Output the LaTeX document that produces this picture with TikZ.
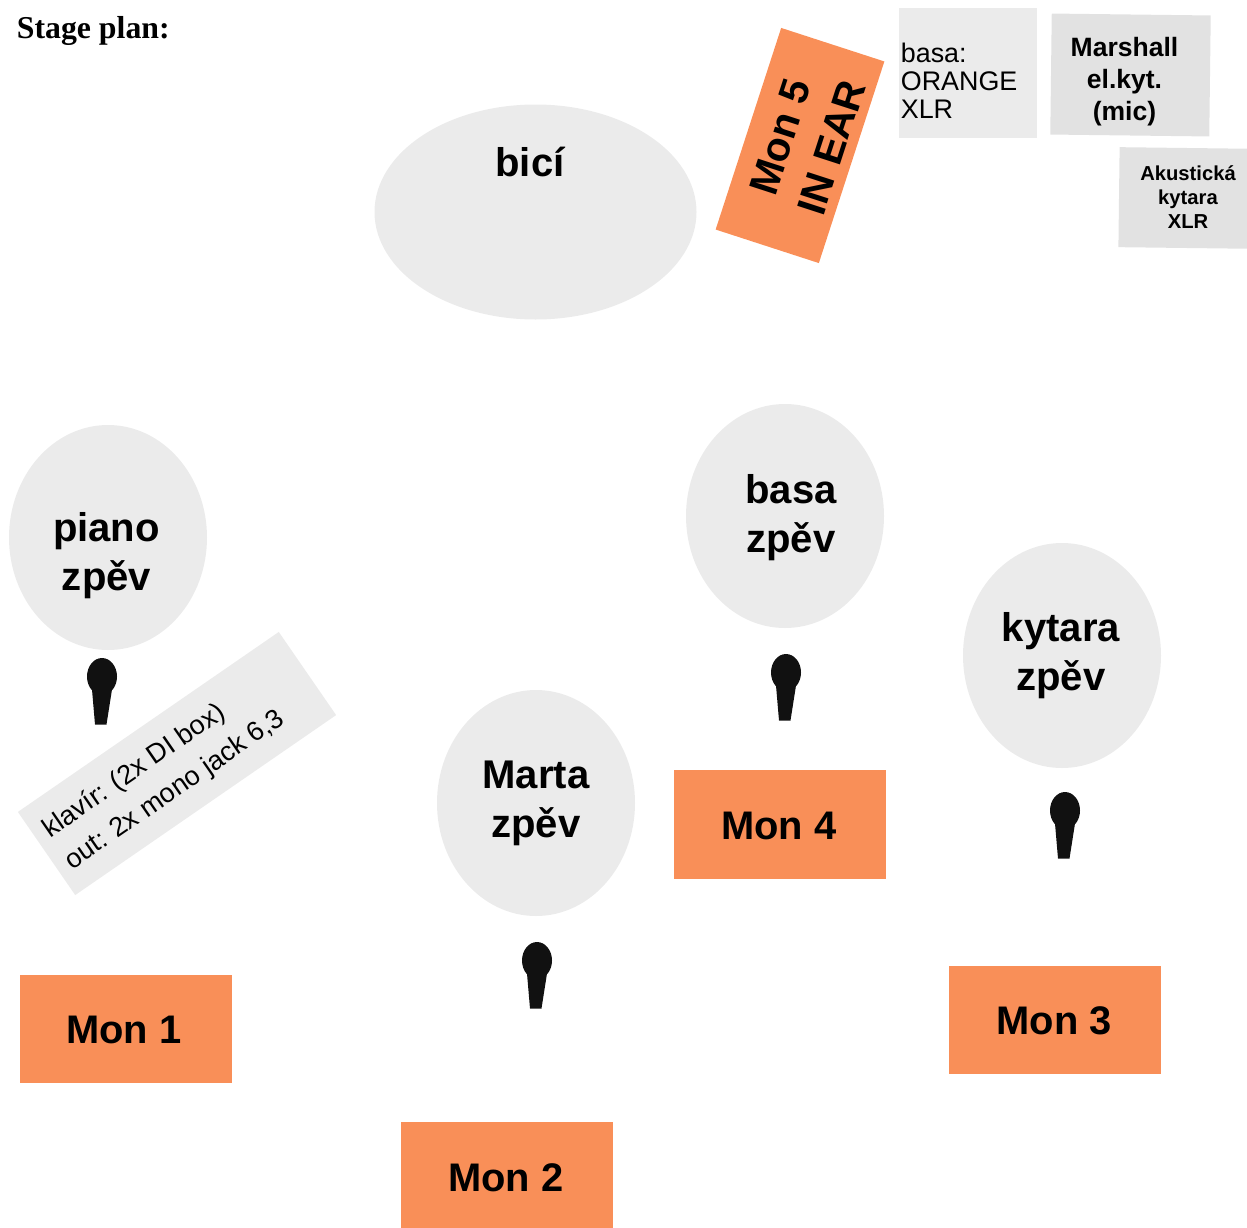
\documentclass[tikz,border=0pt]{standalone}
\usepackage{fontspec}
\setmainfont{Liberation Sans}
\newfontfamily\titlefont{Liberation Serif}
\usetikzlibrary{shapes.geometric}
\definecolor{monorange}{HTML}{F98F58}
\definecolor{lightgrey}{HTML}{EBEBEB}
\definecolor{midgrey}{HTML}{E2E2E2}
\definecolor{micblack}{HTML}{111111}
\tikzstyle{player} = [ellipse, fill=lightgrey, inner sep=0pt]
\tikzstyle{who} = [inner sep=0pt, align=center, font=\fontsize{22.8}{27.8}\selectfont\bfseries]
\tikzstyle{monitor} = [rectangle, fill=monorange, minimum width=212*0.02cm, minimum height=108.5*0.02cm, inner sep=0pt, align=center, font=\fontsize{22.7}{27}\selectfont\bfseries]
\tikzstyle{box} = [rectangle, inner sep=0pt, fill=lightgrey]
\tikzstyle{darkbox} = [box, fill=midgrey]
\tikzset{mic/.pic={
  \fill[micblack] (0,0) ellipse (15 and 18.5);
  \fill[micblack] (-10,13) -- (10,13) -- (4.5,48) -- (-7,48) -- cycle;
}}

\begin{document}
\begin{tikzpicture}[x=0.02cm,y=-0.02cm]
  \path[use as bounding box, clip] (0,0) rectangle (1247,1227);

  \node (title) [anchor=west, inner sep=0pt, font=\titlefont\fontsize{18.1}{22}\selectfont\bfseries] at (16.5,31) {Stage plan:};

  % players
  \node (bici) [player, minimum width=322*0.02cm, minimum height=215*0.02cm] at (535.5,212) {};
  \node (piano) [player, minimum width=198*0.02cm, minimum height=225*0.02cm] at (108,537.5) {};
  \node (basa) [player, minimum width=198*0.02cm, minimum height=224*0.02cm] at (785,516) {};
  \node (kytara) [player, minimum width=198*0.02cm, minimum height=225*0.02cm] at (1062,655.5) {};
  \node (marta) [player, minimum width=198*0.02cm, minimum height=226*0.02cm] at (536,803) {};

  \node (bicitext) [who] at (530,162) {bicí};
  \node (pianotext) [who] at (106.5,556) {piano\\zpěv};
  \node (basatext) [who] at (791,518) {basa\\zpěv};
  \node (kytaratext) [who] at (1061,656) {kytara\\zpěv};
  \node (martatext) [who] at (536,803.5) {Marta\\zpěv};

  % mics
  \pic (micpiano) at (102,676.5) {mic};
  \pic (micbasa) at (786,672.5) {mic};
  \pic (mickytara) at (1065,810.5) {mic};
  \pic (micmarta) at (537,960.5) {mic};

  % monitors
  \node (mon1) [monitor] at (125.5,1029) {};
  \node (mon1text) [who, font=\fontsize{22.7}{27}\selectfont\bfseries] at (124,1030) {Mon 1};
  \node (mon2) [monitor] at (507,1176) {};
  \node (mon2text) [who, font=\fontsize{22.7}{27}\selectfont\bfseries] at (506,1178) {Mon 2};
  \node (mon3) [monitor] at (1055,1020) {};
  \node (mon3text) [who, font=\fontsize{22.7}{27}\selectfont\bfseries] at (1054,1021) {Mon 3};
  \node (mon4) [monitor] at (780,824.5) {};
  \node (mon4text) [who, font=\fontsize{22.7}{27}\selectfont\bfseries] at (779,825.5) {Mon 4};
  \node (mon5) [monitor, rotate=72] at (800,145.5) {};
  \node (mon5text) [who, rotate=72, font=\fontsize{23.2}{29.5}\selectfont\bfseries] at (805,145) {Mon 5\\\hspace*{6.8pt}IN EAR};

  % inputs
  \node (klavir) [box, rotate=34.6, minimum width=317*0.02cm, minimum height=101*0.02cm] at (177,763.5) {};
  \node (klavirtext) [inner sep=0pt, rotate=34.6, align=left, font=\fontsize{15.4}{22}\selectfont] at (164,774.5) {klavír: (2x DI box)\\out: 2x mono jack 6,3};
  \node (orange) [box, minimum width=138*0.02cm, minimum height=130*0.02cm] at (968,73) {};
  \node (orangetext) [anchor=west, inner sep=0pt, align=left, font=\fontsize{15.3}{16}\selectfont] at (900.5,81) {basa:\\ORANGE\\XLR};
  \node (marshall) [darkbox, rotate=-0.7, minimum width=159*0.02cm, minimum height=121*0.02cm] at (1130.5,75) {};
  \node (marshalltext) [inner sep=0pt, align=center, font=\fontsize{15.1}{18.2}\selectfont\bfseries] at (1124.5,82) {Marshall\\el.kyt.\\(mic)};
  \node (akustika) [darkbox, rotate=-0.7, minimum width=136*0.02cm, minimum height=100*0.02cm] at (1187,198) {};
  \node (akustikatext) [inner sep=0pt, align=center, font=\fontsize{11.5}{13.6}\selectfont\bfseries] at (1188,197) {Akustická\\kytara\\XLR};
\end{tikzpicture}
\end{document}
